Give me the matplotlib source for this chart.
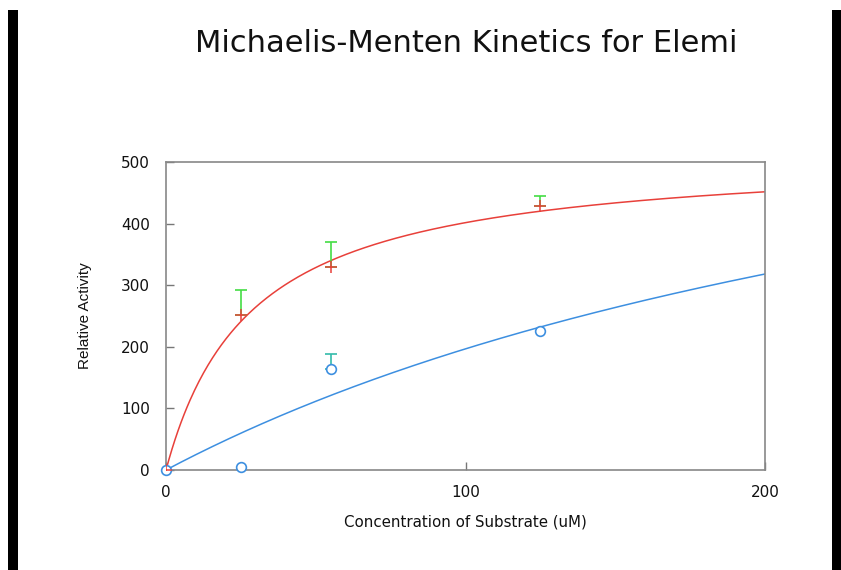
import numpy as np
import matplotlib
matplotlib.use("Agg")
import matplotlib.pyplot as plt
from matplotlib.patches import Rectangle

plt.rcParams['font.family'] = ['DejaVu Sans']

# Data
conc = [0, 25, 55, 125]
red_activity = [0, 251, 330, 428]
red_err_up = [0, 41, 40, 17]
blue_activity = [0, 5, 164, 225]
blue_err_up = [0, 0, 24, 0]

# Michaelis-Menten fit parameters
red_vmax, red_km = 516.0, 28.5
blue_vmax, blue_km = 832.0, 323.0

title = "Michaelis-Menten Kinetics for Elemi"
xlabel = "Concentration of Substrate (uM)"
ylabel = "Relative Activity"
xticks = [0, 100, 200]
yticks = [0, 100, 200, 300, 400, 500]

fig = plt.figure(figsize=(8.41, 5.70), dpi=100)
fig.patch.set_facecolor('white')
ax = fig.add_axes([166/841, 100/570, (765-166)/841, (470-162)/570])

xs = np.linspace(0, 200, 400)
red_c = '#e8403a'
blue_c = '#3d8fe0'
ax.plot(xs, red_vmax * xs / (red_km + xs), color=red_c, lw=1.1, zorder=2)
ax.plot(xs, blue_vmax * xs / (blue_km + xs), color=blue_c, lw=1.1, zorder=2)

def draw_err(x, y, e, color):
    for xi, yi, ei in zip(x, y, e):
        if ei > 0:
            ax.errorbar([xi], [yi], yerr=[[0], [ei]], fmt='none', ecolor=color,
                        elinewidth=1.2, capsize=4, capthick=1.2, zorder=3)

draw_err(conc, red_activity, red_err_up, '#44dd44')
draw_err(conc, blue_activity, blue_err_up, '#33bbaa')

ax.plot(conc, red_activity, linestyle='none', marker='+', color=red_c,
        markersize=9, mew=1.1, zorder=5)
ax.plot(conc, blue_activity, linestyle='none', marker='o', mfc='white',
        mec=blue_c, markersize=7, mew=1.2, zorder=4, clip_on=False)

ax.set_xlim(0, 200)
ax.set_ylim(0, 500)
ax.set_xticks(xticks)
ax.set_yticks(yticks)
for s in ax.spines.values():
    s.set_color('#888888')
    s.set_linewidth(1.2)
ax.tick_params(direction='in', length=6, width=1, color='#777777',
               labelsize=11, labelcolor='#111111')
ax.tick_params(axis='y', pad=11.5)
ax.tick_params(axis='x', pad=11)
ax.set_xlabel(xlabel, fontsize=10.8, labelpad=10, color='#111111')
ax.set_ylabel(ylabel, fontsize=11, labelpad=21, color='#111111',
              family=['Liberation Sans', 'DejaVu Sans'])

fig.text(466/841, 1 - 43/570, title, ha='center', va='center', fontsize=22,
         color='#111111')

# black side bars
fig.add_artist(Rectangle((8/841, 0), 10/841, 1 - 10/570, transform=fig.transFigure,
                         facecolor='black', edgecolor='none'))
fig.add_artist(Rectangle((832/841, 0), 9/841, 1 - 10/570, transform=fig.transFigure,
                         facecolor='black', edgecolor='none'))

fig.savefig('out.png', dpi=100)
